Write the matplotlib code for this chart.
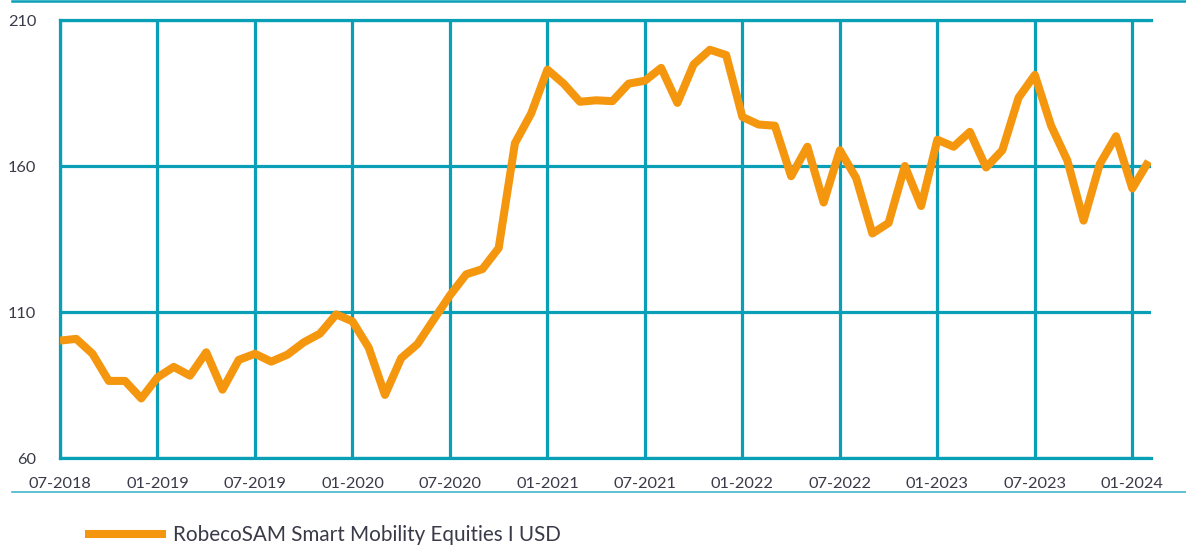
import matplotlib
matplotlib.use("Agg")
import matplotlib.pyplot as plt
from matplotlib.lines import Line2D
import numpy as np

# ---- data (monthly, 07-2018 .. 02-2024) ----
series_name = "RobecoSAM Smart Mobility Equities I USD"
values = [
    100.2, 100.8, 95.7, 86.4, 86.4, 80.4,          # 07-12 2018
    87.6, 91.2, 88.2, 96.2, 83.4, 93.6,            # 01-06 2019
    95.7, 93.0, 95.4, 99.6, 102.6, 109.2,          # 07-12 2019
    106.8, 97.8, 81.6, 94.2, 99.0, 107.4,          # 01-06 2020
    115.7, 122.9, 124.7, 131.9, 167.8, 178.0,      # 07-12 2020
    193.0, 188.2, 182.0, 182.5, 182.2, 188.2,      # 01-06 2021
    189.2, 193.6, 181.6, 194.8, 199.8, 198.0,      # 07-12 2021
    176.8, 174.2, 173.8, 156.5, 166.6, 147.5,      # 01-06 2022
    165.4, 155.9, 136.9, 140.5, 160.0, 146.3,      # 07-12 2022
    169.0, 166.6, 171.7, 159.5, 165.4, 183.4,      # 01-06 2023
    191.2, 173.8, 161.9, 141.3, 160.7, 170.2,      # 07-12 2023
    152.3, 161.6,                                  # 01-02 2024
]
x_tick_labels = ["07-2018", "01-2019", "07-2019", "01-2020", "07-2020", "01-2021",
                 "07-2021", "01-2022", "07-2022", "01-2023", "07-2023", "01-2024"]
y_ticks = [60, 110, 160, 210]

TEAL = "#089FB7"
ORANGE = "#F5960F"
TEXT = "#3a3a48"

W, H = 1186, 549
fig = plt.figure(figsize=(W / 100, H / 100), dpi=100)
ax = fig.add_axes([60 / W, 1 - 458 / H, (1151 - 60) / W, (458 - 20) / H])

x = np.arange(len(values))
ax.plot(x, values, color=ORANGE, lw=5.8, solid_joinstyle="round",
        solid_capstyle="butt", label=series_name, zorder=3)

ax.set_xlim(0, len(values) - 0.85)
ax.set_ylim(60, 210)
ax.set_xticks(np.arange(0, len(values), 6)[:len(x_tick_labels)])
ax.set_xticklabels(x_tick_labels)
ax.set_yticks(y_ticks)
ax.set_yticklabels([str(v) for v in y_ticks])

ax.grid(True, color=TEAL, lw=2.3)
ax.set_axisbelow(True)
for side in ["left", "top", "bottom"]:
    ax.spines[side].set_color(TEAL)
    ax.spines[side].set_linewidth(2.3)
ax.spines["right"].set_visible(False)

ax.tick_params(axis="both", length=0, labelcolor=TEXT, labelsize=11.8)
ax.tick_params(axis="x", pad=14)
ax.tick_params(axis="y", pad=17)
for lab in ax.get_xticklabels() + ax.get_yticklabels():
    lab.set_fontfamily("Lato")

# decorative frame lines
fig.add_artist(Line2D([12 / W, 1.0], [1 - 1 / H, 1 - 1 / H], color=TEAL, lw=1.8))
fig.add_artist(Line2D([12 / W, 1.0], [1 - 492 / H, 1 - 492 / H], color="#33B0C8", lw=1.1))

leg = fig.legend(handles=ax.get_lines(), loc="center left",
                 bbox_to_anchor=(85 / W, 1 - 535 / H), bbox_transform=fig.transFigure,
                 frameon=False, handlelength=3.9, handletextpad=0.34,
                 borderpad=0, borderaxespad=0,
                 prop={"family": "Lato", "size": 14.9})
for t in leg.get_texts():
    t.set_color(TEXT)

fig.savefig("out.png", dpi=100)
